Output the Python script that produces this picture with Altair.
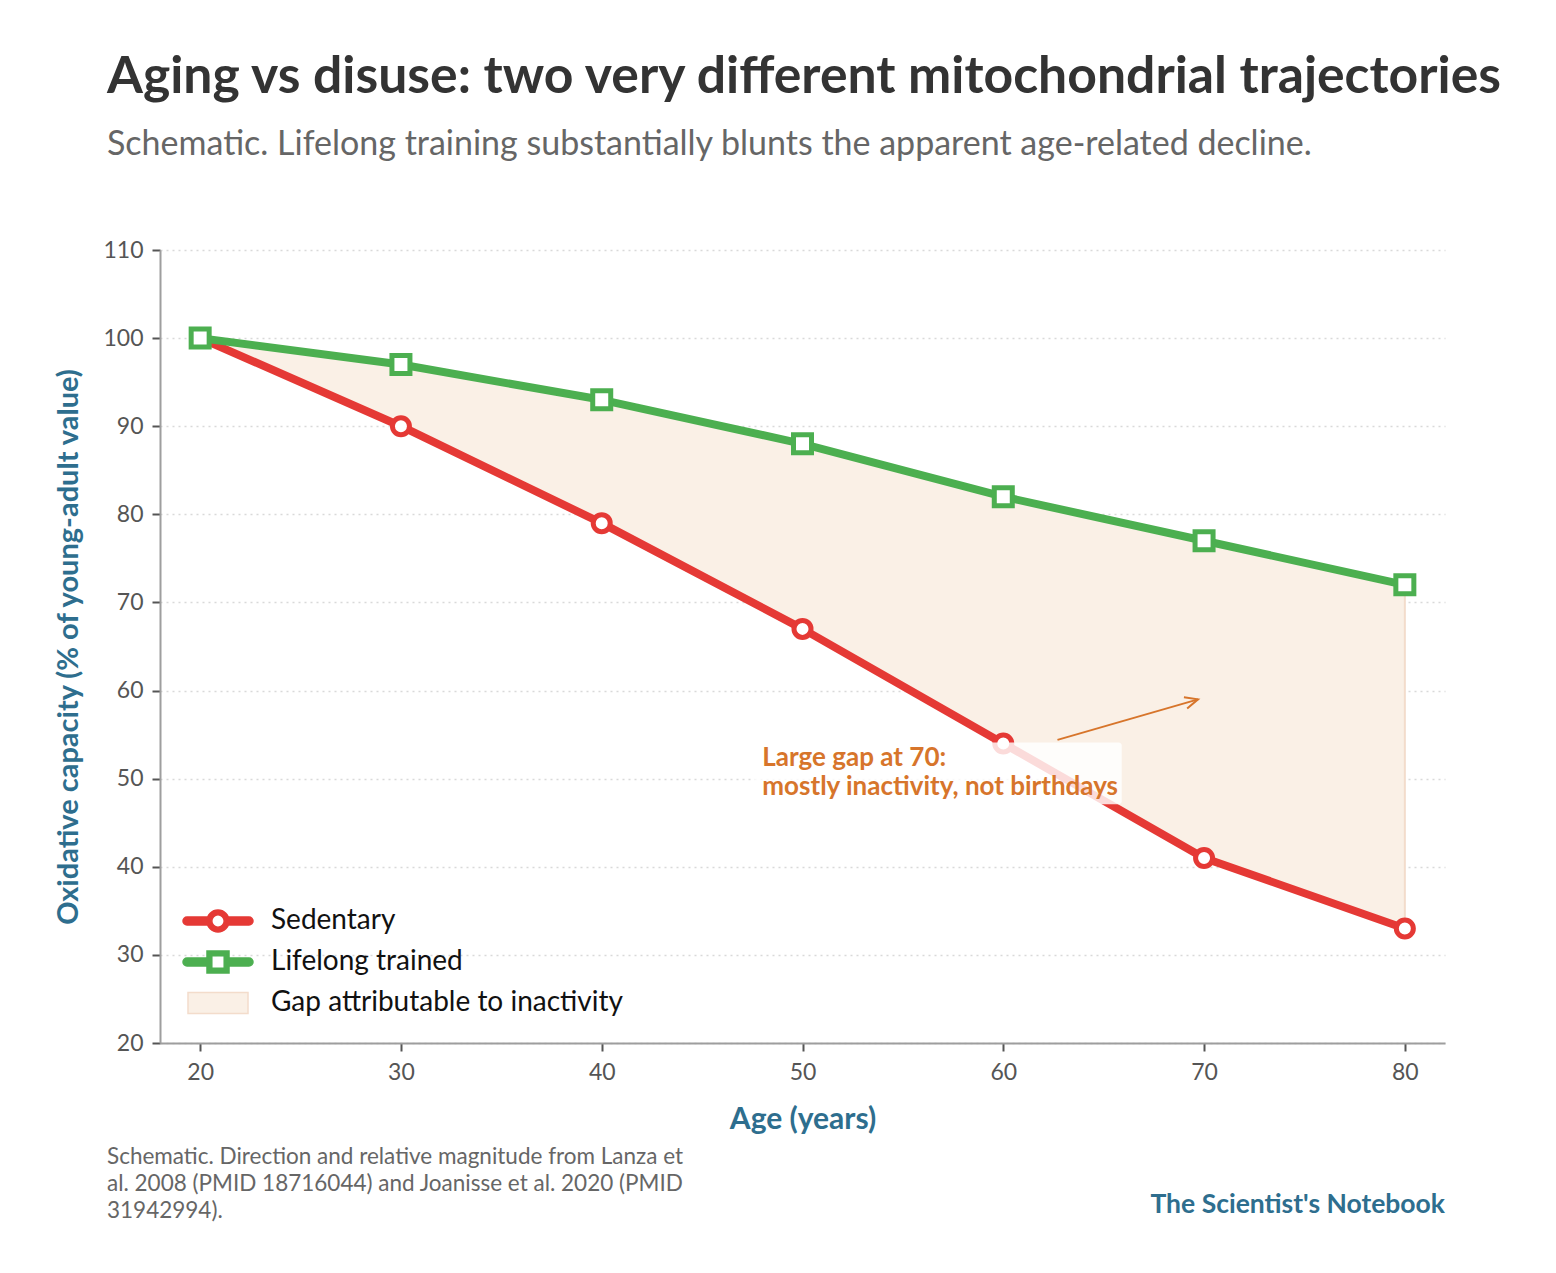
import math
import altair as alt
import pandas as pd

# ---------------- data ----------------
ages = [20, 30, 40, 50, 60, 70, 80]
sedentary = [100, 90, 79, 67, 54, 41, 33]
trained = [100, 97, 93, 88, 82, 77, 72]
y_ticks = [20, 30, 40, 50, 60, 70, 80, 90, 100, 110]
series_names = ["Sedentary", "Lifelong trained", "Gap attributable to inactivity"]

annotation_text = ["Large gap at 70:", "mostly inactivity, not birthdays"]
footer_text = [
    "Schematic. Direction and relative magnitude from Lanza et",
    "al. 2008 (PMID 18716044) and Joanisse et al. 2020 (PMID",
    "31942994).",
]
brand_text = "The Scientist's Notebook"
title_text = "Aging vs disuse: two very different mitochondrial trajectories"
subtitle_text = "Schematic. Lifelong training substantially blunts the apparent age-related decline."

# annotation geometry (data coordinates)
ann_x, ann_y = 48.0, 52.35
box_x0, box_x1, box_y0, box_y1 = 47.6, 65.9, 47.1, 54.1
arrow_x0, arrow_y0, arrow_x1, arrow_y1 = 62.7, 54.4, 69.7, 59.0

# ---------------- styling ----------------
FONT = "Lato"
RED = "#e53935"
GREEN = "#4caf50"
GAP = "#faf0e6"
GAP_EDGE = "#f3dccb"
ORANGE = "#d7752b"
BLUE = "#2e6e8e"

W, H = 1285, 793
X_DOMAIN = [18, 82]
Y_DOMAIN = [20, 110]

df = pd.DataFrame({"age": ages, "sedentary": sedentary, "trained": trained})

x_scale = alt.Scale(domain=X_DOMAIN, nice=False, zero=False)
y_scale = alt.Scale(domain=Y_DOMAIN, nice=False, zero=False)

x_axis = alt.Axis(
    values=ages, grid=False, title="Age (years)",
    domainColor="#9e9e9e", domainWidth=2, tickColor="#555555", tickWidth=2, tickSize=8,
    labelFont=FONT, labelFontSize=23, labelColor="#555555", labelPadding=10,
    titleFont=FONT, titleFontSize=30, titleFontWeight="bold", titleColor=BLUE, titlePadding=20,
)
y_axis = alt.Axis(
    values=y_ticks, grid=True, gridColor="#d9d9d9", gridDash=[2, 4], gridWidth=1.6,
    title="Oxidative capacity (% of young-adult value)",
    domainColor="#9e9e9e", domainWidth=2, tickColor="#555555", tickWidth=2, tickSize=8,
    labelFont=FONT, labelFontSize=23, labelColor="#555555", labelPadding=9,
    titleFont=FONT, titleFontSize=29, titleFontWeight="bold", titleColor=BLUE, titlePadding=19,
)

base = alt.Chart(df)

area = base.mark_area(color=GAP, stroke=GAP_EDGE, strokeWidth=2).encode(
    x=alt.X("age:Q", scale=x_scale, axis=x_axis),
    y=alt.Y("sedentary:Q", scale=y_scale, axis=y_axis),
    y2="trained:Q",
)

red_line = base.mark_line(color=RED, strokeWidth=8, strokeCap="round", strokeJoin="round").encode(
    x="age:Q", y="sedentary:Q")
red_pts = base.mark_point(shape="circle", filled=True, fill="white", stroke=RED,
                          strokeWidth=5, size=289, opacity=1).encode(x="age:Q", y="sedentary:Q")
green_line = base.mark_line(color=GREEN, strokeWidth=8, strokeCap="round", strokeJoin="round").encode(
    x="age:Q", y="trained:Q")
green_pts = base.mark_point(shape="square", filled=True, fill="white", stroke=GREEN,
                            strokeWidth=5, size=324, opacity=1).encode(x="age:Q", y="trained:Q")

# annotation
ann_df = pd.DataFrame({
    "x": [ann_x], "y": [ann_y], "bx0": [box_x0], "bx1": [box_x1], "by0": [box_y0], "by1": [box_y1],
    "ax0": [arrow_x0], "ay0": [arrow_y0], "ax1": [arrow_x1], "ay1": [arrow_y1],
    "label": ["\n".join(annotation_text)],
})
ann = alt.Chart(ann_df)
box = ann.mark_rect(fill="white", opacity=0.82, cornerRadius=3).encode(
    x="bx0:Q", x2="bx1:Q", y="by0:Q", y2="by1:Q")
ann_label = ann.mark_text(align="left", baseline="middle", font=FONT, fontSize=26,
                          fontWeight="bold", color=ORANGE, lineBreak="\n", lineHeight=29).encode(
    x="x:Q", y="y:Q", text="label:N")
arrow_line = ann.mark_rule(color=ORANGE, strokeWidth=2).encode(
    x="ax0:Q", y="ay0:Q", x2="ax1:Q", y2="ay1:Q")
px_x = W / (X_DOMAIN[1] - X_DOMAIN[0])
px_y = H / (Y_DOMAIN[1] - Y_DOMAIN[0])
ang = math.degrees(math.atan2(-(arrow_y1 - arrow_y0) * px_y, (arrow_x1 - arrow_x0) * px_x)) % 360
arrow_head = ann.mark_point(shape="M -1 -0.45 L 0 0 L -1 0.45", filled=False, color=ORANGE,
                            strokeWidth=2, size=676, angle=ang, opacity=1).encode(x="ax1:Q", y="ay1:Q")

# legend via custom symbol shapes
line_circle = ("M -3.1 -0.4 L -0.9 -0.4 L -0.9 0.4 L -3.1 0.4 A 0.4 0.4 0 0 1 -3.1 -0.4 Z "
               "M 0.9 -0.4 L 3.1 -0.4 A 0.4 0.4 0 0 1 3.1 0.4 L 0.9 0.4 Z "
               "M 1.1 0 A 1.1 1.1 0 1 1 -1.1 0 A 1.1 1.1 0 1 1 1.1 0 Z "
               "M 0.62 0 A 0.62 0.62 0 1 0 -0.62 0 A 0.62 0.62 0 1 0 0.62 0 Z")
line_square = ("M -3.1 -0.4 L -0.9 -0.4 L -0.9 0.4 L -3.1 0.4 A 0.4 0.4 0 0 1 -3.1 -0.4 Z "
               "M 0.9 -0.4 L 3.1 -0.4 A 0.4 0.4 0 0 1 3.1 0.4 L 0.9 0.4 Z "
               "M -1.1 -1.1 L 1.1 -1.1 L 1.1 1.1 L -1.1 1.1 Z "
               "M -0.62 -0.62 L -0.62 0.62 L 0.62 0.62 L 0.62 -0.62 Z")
gap_rect = "M -3.0 -1.05 L 3.0 -1.05 L 3.0 1.05 L -3.0 1.05 Z"

leg_df = pd.DataFrame({"series": series_names})
legend = alt.Legend(
    title=None, orient="none", legendX=44, legendY=657, padding=0,
    labelFont=FONT, labelFontSize=28, labelColor="#111111", labelOffset=39,
    symbolSize=400, symbolStrokeWidth=1.5, symbolOpacity=1, rowPadding=13,
    labelLimit=600,
)
legend_layer = alt.Chart(leg_df).mark_point(filled=True, opacity=0).encode(
    fill=alt.Fill("series:N", scale=alt.Scale(domain=series_names, range=[RED, GREEN, GAP]),
                  legend=legend),
    stroke=alt.Stroke("series:N", scale=alt.Scale(domain=series_names, range=[RED, GREEN, GAP_EDGE]),
                      legend=legend),
    shape=alt.Shape("series:N", scale=alt.Scale(domain=series_names,
                                                range=[line_circle, line_square, gap_rect]),
                    legend=legend),
)

# footer + brand
foot_df = pd.DataFrame({"t": ["\n".join(footer_text)], "b": [brand_text]})
footer = alt.Chart(foot_df).mark_text(align="left", baseline="top", font=FONT, fontSize=22.5,
                                      color="#666666", lineBreak="\n", lineHeight=27).encode(
    x=alt.value(-53), y=alt.value(896), text="t:N")
brand = alt.Chart(foot_df).mark_text(align="right", baseline="middle", font=FONT, fontSize=26.5,
                                     fontWeight="bold", color=BLUE).encode(
    x=alt.value(W), y=alt.value(955), text="b:N")

chart = alt.layer(
    area, red_line, red_pts, green_line, green_pts,
    box, arrow_line, arrow_head, ann_label, legend_layer, footer, brand,
).properties(
    width=W, height=H,
    title=alt.Title(
        title_text, subtitle=subtitle_text, anchor="start", frame="group", dx=-53,
        offset=77, font=FONT, fontSize=51.7, fontWeight="bold", color="#333333",
        subtitleFont=FONT, subtitleFontSize=34, subtitleColor="#666666", subtitlePadding=24,
    ),
    autosize=alt.AutoSizeParams(type="none"),
    padding={"left": 152, "top": 242, "right": 103, "bottom": 222},
).configure(background="white").configure_view(stroke=None)

chart.save("out.html", embed_options={"renderer": "svg", "actions": False})
